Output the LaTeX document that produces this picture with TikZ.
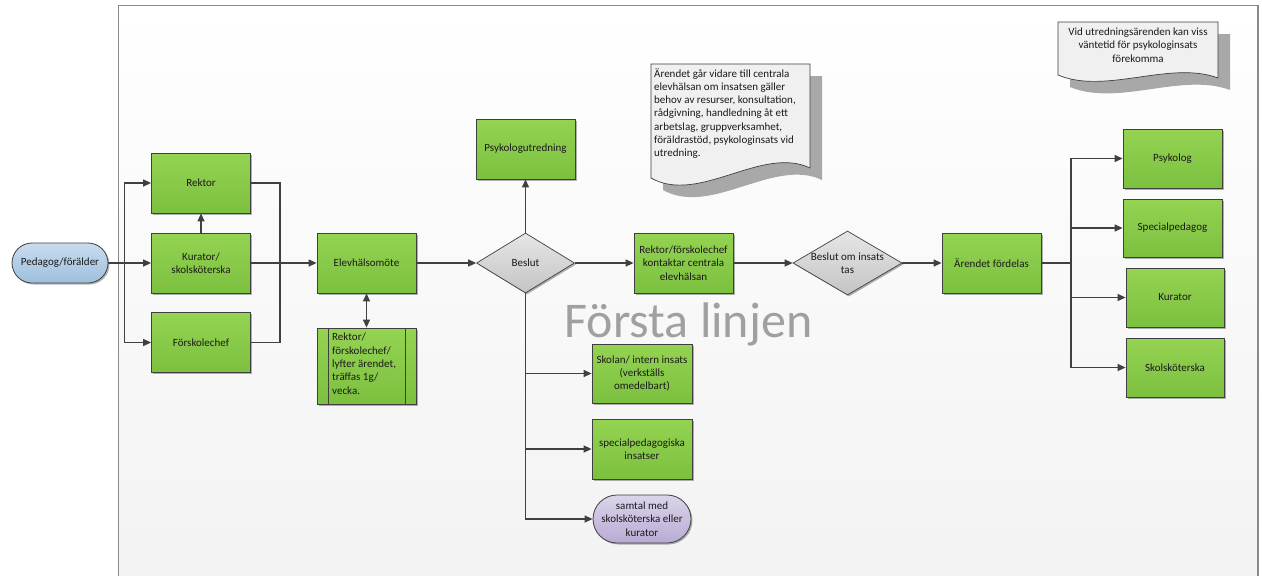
\documentclass[tikz,border=0pt]{standalone}
\usepackage{fontspec}
\setmainfont{Carlito}
\usetikzlibrary{arrows.meta,shapes.geometric,shapes.misc,shadows,calc}

\definecolor{lineC}{HTML}{404040}
\definecolor{borderC}{HTML}{3F3F3F}
\definecolor{txtC}{HTML}{1A1A1A}
\definecolor{greenTop}{HTML}{95D352}
\definecolor{greenBot}{HTML}{7CC040}
\definecolor{grayTop}{HTML}{E6E6E6}
\definecolor{grayBot}{HTML}{C4C4C4}
\definecolor{blueTop}{HTML}{C9DCEF}
\definecolor{blueBot}{HTML}{9EBFDD}
\definecolor{lilacTop}{HTML}{DCD4EA}
\definecolor{lilacBot}{HTML}{B8ABD3}
\definecolor{noteFill}{HTML}{F0F0F0}
\definecolor{noteShadow}{HTML}{A8A8A8}
\definecolor{laneBorder}{HTML}{8A8A8A}
\definecolor{laneTop}{HTML}{FFFFFF}
\definecolor{laneBot}{HTML}{F2F2F2}
\definecolor{titleC}{HTML}{A0A0A0}

\tikzset{
  basefont/.style={font=\fontsize{11}{13.3}\selectfont, text=txtC},
  boxshadow/.style={drop shadow={shadow xshift=1.5pt, shadow yshift=-1.5pt, opacity=0.3, fill=black}},
  gbox/.style={basefont, draw=borderC, line width=0.8pt, top color=greenTop, bottom color=greenBot,
    minimum width=99pt, minimum height=60pt, inner sep=1pt, align=center, boxshadow},
  decision/.style={diamond, draw=borderC, line width=0.7pt, top color=grayTop, bottom color=grayBot,
    inner sep=0pt, boxshadow},
  decisiontext/.style={basefont, align=center, inner sep=0pt},
  terminal/.style={basefont, rounded rectangle, draw=borderC, line width=0.8pt, inner sep=1pt, align=center, boxshadow},
  link/.style={draw=lineC, line width=1.3pt},
  conn/.style={link, -{Triangle[length=8pt,width=7pt]}},
  biconn/.style={link, {Triangle[length=8pt,width=7pt]}-{Triangle[length=8pt,width=7pt]}},
  notetext/.style={basefont, inner sep=0pt},
}

\begin{document}
\begin{tikzpicture}[x=1pt,y=-1pt]
\useasboundingbox (0,0) rectangle (1262,576);
\clip (0,0) rectangle (1262,576);

% swimlane
\fill[top color=laneTop, bottom color=laneBot] (118.5,5.5) rectangle (1258,600);
\draw[laneBorder, line width=1.5pt] (118.5,600) -- (118.5,5.5) -- (1258,5.5) -- (1258,600);

% lane title
\node[font=\fontsize{50}{54}\selectfont, text=titleC, anchor=base, inner sep=0pt] (lanetitle) at (688.5,337) {Första linjen};

% notes (document shapes with shadows)
\fill[noteShadow] (663,76) -- (822,76) -- (822,180)
  .. controls (774,157) and (711,217) .. (663,190) -- cycle;
\draw[borderC, line width=0.7pt, fill=noteFill] (651,64) -- (810,64) -- (810,168)
  .. controls (762,145) and (699,205) .. (651,178) -- cycle;
\node[notetext, anchor=north west, align=left] (note1) at (654,68)
  {Ärendet går vidare till centrala\\elevhälsan om insatsen gäller\\behov av resurser, konsultation,\\rådgivning, handledning åt ett\\arbetslag, gruppverksamhet,\\föräldrastöd, psykologinsats vid\\utredning.};

\fill[noteShadow] (1070,34) -- (1230,34) -- (1230,90)
  .. controls (1182,72) and (1118,107) .. (1070,87) -- cycle;
\draw[borderC, line width=0.7pt, fill=noteFill] (1058,22) -- (1218,22) -- (1218,78)
  .. controls (1170,60) and (1106,95) .. (1058,75) -- cycle;
\node[notetext, align=center] (note2) at (1138,45)
  {Vid utredningsärenden kan viss\\väntetid för psykologinsats\\förekomma};

% start
\node[terminal, top color=blueTop, bottom color=blueBot, minimum width=98pt, minimum height=40pt] (ped) at (60,263) {Pedagog/förälder};

% first column
\node[gbox] (rektor) at (201,183) {Rektor};
\node[gbox] (kurator) at (201,263) {Kurator/\\skolsköterska};
\node[gbox] (forsk) at (201,342.5) {Förskolechef};

% meeting and its predefined process
\node[gbox] (elev) at (366.5,263) {Elevhälsomöte};
\node[gbox, minimum width=99pt, minimum height=76pt] (pp) at (366.5,366) {};
\draw[borderC, line width=0.8pt] ($(pp.north west)+(12,0)$) -- ($(pp.south west)+(12,0)$);
\draw[borderC, line width=0.8pt] ($(pp.north east)+(-11,0)$) -- ($(pp.south east)+(-11,0)$);
\node[basefont, anchor=north west, align=left, inner sep=0pt] (pptext) at (332,333)
  {Rektor/\\förskolechef/\\lyfter ärendet,\\träffas 1g/\\vecka.};

% decision
\node[decision, minimum width=98pt, minimum height=60pt] (beslut) at (525.5,263) {};
\node[decisiontext] (beslutlabel) at (beslut) {Beslut};
\node[gbox] (psyk) at (525.5,149) {Psykologutredning};

% school-level actions
\node[gbox, minimum width=100pt, minimum height=59pt] (skolan) at (642,373.5) {Skolan/ intern insats\\(verkställs\\omedelbart)};
\node[gbox, minimum width=100pt] (specins) at (642,449) {specialpedagogiska\\insatser};
\node[terminal, top color=lilacTop, bottom color=lilacBot, minimum width=100pt, minimum height=48pt] (samtal) at (642,519) {samtal med\\skolsköterska eller\\kurator};

% central student health
\node[gbox] (kontakt) at (683.5,263) {Rektor/förskolechef\\kontaktar centrala\\elevhälsan};
\node[decision, minimum width=109pt, minimum height=64pt] (beslut2) at (847.5,263) {};
\node[decisiontext] (beslut2label) at (beslut2) {Beslut om insats\\tas};
\node[gbox] (arende) at (991.5,263) {Ärendet fördelas};

\node[gbox, minimum height=59pt] (psykolog) at (1172.5,158.5) {Psykolog};
\node[gbox, minimum height=58pt] (specped) at (1172.5,228) {Specialpedagog};
\node[gbox, minimum width=98pt, minimum height=59pt] (kurator2) at (1175,297.5) {Kurator};
\node[gbox, minimum width=98pt, minimum height=59pt] (skolsk) at (1175,367.5) {Skolsköterska};

% junctions
\coordinate (split) at (124.5,263);
\coordinate (merge) at (280,263);
\coordinate (rsplit) at (1071,263);

% connectors
\draw[link] (ped.east) -- (split);
\draw[conn] (split) |- (rektor.west);
\draw[conn] (split) -- (kurator.west);
\draw[conn] (split) |- (forsk.west);
\draw[conn] (kurator.north) -- (rektor.south);
\draw[link] (rektor.east) -| (merge);
\draw[link] (forsk.east) -| (merge);
\draw[conn] (kurator.east) -- (elev.west);
\draw[biconn] (elev.south) -- (pp.north);
\draw[conn] (elev.east) -- (beslut.west);
\draw[conn] (beslut.north) -- (psyk.south);
\draw[conn] (beslut.south) |- (skolan.west);
\draw[conn] (beslut.south) |- (specins.west);
\draw[conn] (beslut.south) |- (samtal.west);
\draw[conn] (beslut.east) -- (kontakt.west);
\draw[conn] (kontakt.east) -- (beslut2.west);
\draw[conn] (beslut2.east) -- (arende.west);
\draw[link] (arende.east) -- (rsplit);
\draw[conn] (rsplit) |- (psykolog.west);
\draw[conn] (rsplit) |- (specped.west);
\draw[conn] (rsplit) |- (kurator2.west);
\draw[conn] (rsplit) |- (skolsk.west);
\end{tikzpicture}
\end{document}
